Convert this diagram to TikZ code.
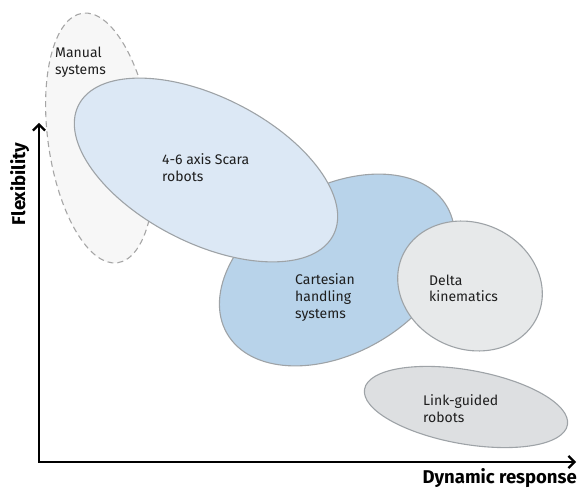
\documentclass[tikz,border=0pt]{standalone}
\usepackage{fontspec}
\setmainfont{Fira Sans}
\usetikzlibrary{arrows.meta}

\definecolor{zoneline}{HTML}{9EA3A7}
\definecolor{manualline}{HTML}{A6A6A6}
\definecolor{manualfill}{HTML}{F7F7F7}
\definecolor{scarafill}{HTML}{DCE8F5}
\definecolor{cartfill}{HTML}{B8D3EA}
\definecolor{deltafill}{HTML}{E7E9EA}
\definecolor{linkfill}{HTML}{DDDFE1}
\definecolor{labeltext}{HTML}{1E1E1E}

\begin{document}
\begin{tikzpicture}[x=1pt,y=-1pt]
	\tikzstyle{zone}=[draw=zoneline,line width=1.1pt]
	\tikzstyle{manualzone}=[draw=manualline,line width=1.1pt,dash pattern=on 6pt off 4pt,fill=manualfill]
	\tikzstyle{label}=[anchor=base west,inner sep=0pt,align=left,font=\fontsize{14}{17}\selectfont,text=labeltext]
	\tikzstyle{axis}=[line width=2.2pt,{Straight Barb[length=6pt,width=12pt]}-{Straight Barb[length=6pt,width=12pt]}]
	\tikzstyle{axislabel}=[font=\bfseries\fontsize{18.5}{22}\selectfont,inner sep=0pt]

	\useasboundingbox (0,0) rectangle (579,489);

	% regions
	\draw[manualzone,shift={(100,138)},rotate=8] (0,0) ellipse [x radius=52,y radius=126];
	\draw[zone,fill=cartfill,shift={(337,270)},rotate=30] (0,0) ellipse [x radius=127,y radius=83];
	\draw[zone,fill=scarafill,shift={(206,170)},rotate=-27] (0,0) ellipse [x radius=143,y radius=73];
	\draw[zone,fill=deltafill,shift={(470,286)},rotate=-24] (0,0) ellipse [x radius=74,y radius=63];
	\draw[zone,fill=linkfill,shift={(466,407)},rotate=-10] (0,0) ellipse [x radius=103,y radius=37];

	% labels (anchored at the last line)
	\node[label] (manual) at (55,75) {Manual\\systems};
	\node[label] (scara) at (162,182) {4-6 axis Scara\\robots};
	\node[label] (cartesian) at (295,319) {Cartesian\\handling\\systems};
	\node[label] (delta) at (429,302) {Delta\\kinematics};
	\node[label] (link) at (423,422) {Link-guided\\robots};

	% axes
	\coordinate (ytip) at (39,123);
	\coordinate (xtip) at (576,462);
	\draw[axis] (ytip) |- (xtip);
	\node[axislabel,anchor=base east] (xlabel) at (577,483) {Dynamic response};
	\node[axislabel,rotate=90,anchor=base] (ylabel) at (25,184) {Flexibility};
\end{tikzpicture}
\end{document}
